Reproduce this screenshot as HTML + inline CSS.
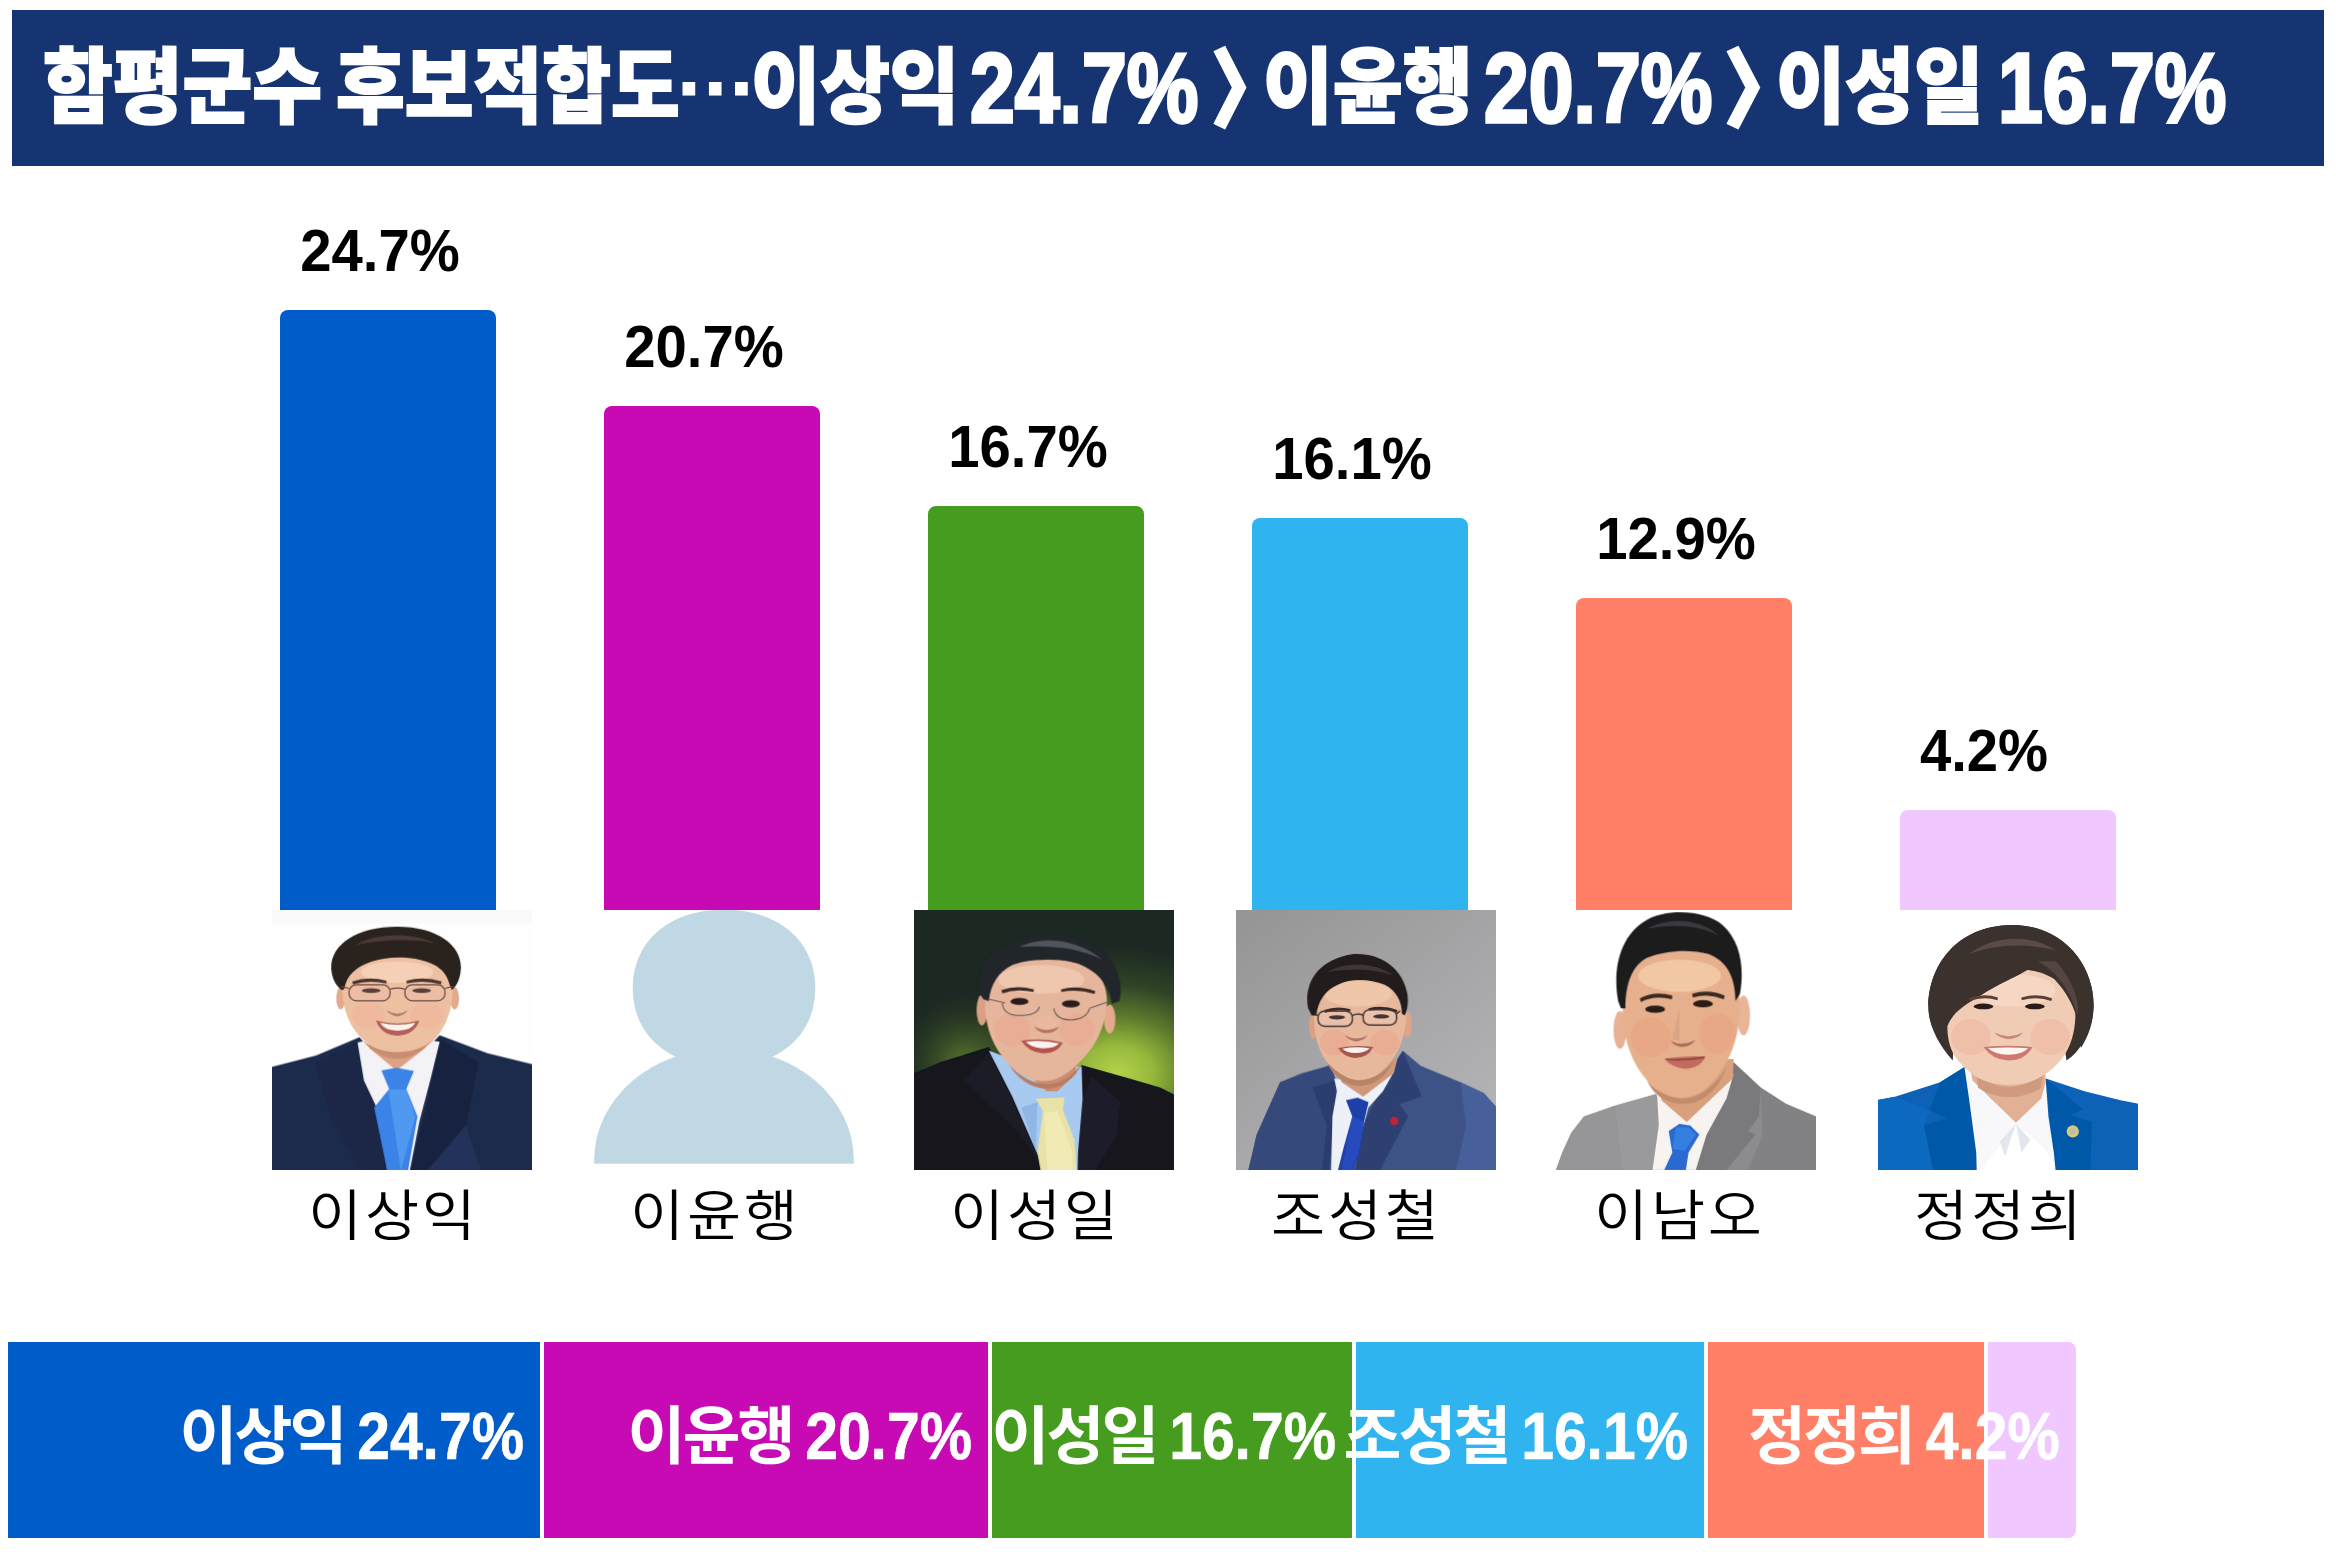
<!DOCTYPE html>
<html lang="ko">
<head>
<meta charset="utf-8">
<title>함평군수 후보적합도</title>
<style>
  html, body { margin: 0; padding: 0; }
  body {
    width: 2336px; height: 1552px; position: relative; overflow: hidden;
    background: #ffffff;
    font-family: "Liberation Sans", "Noto Sans CJK KR", sans-serif;
  }
  .abs { position: absolute; }

  /* ---------- banner ---------- */
  #banner {
    position: absolute; left: 12px; top: 10px; width: 2312px; height: 156px;
    background: #173472;
  }
  #banner h1 { margin: 0; font-size: 0; font-weight: 400; }
  #banner h1 span {
    position: absolute; top: 0; height: 156px; line-height: 156px;
    color: #fff; white-space: nowrap; transform-origin: 0 50%;
    font-family: "Liberation Sans", "Noto Sans CJK KR", sans-serif;
  }
  #banner .k { font-weight: 900; font-size: 82px; -webkit-text-stroke: 2px #fff; }
  #banner .e { font-weight: 900; font-size: 83px; -webkit-text-stroke: 1px #fff; }
  #banner .n { font-weight: 700; font-size: 99px; -webkit-text-stroke: 3.5px #fff; }
  #banner .a { font-weight: 900; font-size: 83px; -webkit-text-stroke: 4px #fff; }

  /* ---------- bars ---------- */
  .bar { position: absolute; width: 216px; border-radius: 8px 8px 0 0; }
  .val {
    position: absolute; width: 324px; text-align: center;
    font-family: "Liberation Sans", "Noto Sans CJK KR", sans-serif;
    font-weight: 700; font-size: 59.5px; line-height: 60px; color: #000;
    white-space: nowrap; transform: scaleX(.945);
  }
  .photo { position: absolute; width: 260px; height: 260px; top: 910px; overflow: hidden; }
  .photo svg { display: block; }
  .name {
    position: absolute; top: 1176px; width: 324px; text-align: center;
    font-family: "Liberation Sans", "Noto Sans CJK KR", sans-serif;
    font-weight: 350; font-size: 55px; line-height: 80px; color: #000;
    white-space: nowrap; letter-spacing: 2.6px; text-indent: 2.6px; transform: scaleX(1.07);
  }

  /* ---------- bottom strip ---------- */
  .seg { position: absolute; top: 1342px; height: 196px; }
  .seg span {
    position: absolute; top: 1.5px; height: 184px; line-height: 184px;
    font-family: "Liberation Sans", "Noto Sans CJK KR", sans-serif;
    font-weight: 700; color: #fff; white-space: nowrap;
  }
  .seg .h { right: 195.5px; font-size: 63px; letter-spacing: -3px; }
  .seg .d { right: 16.5px; font-size: 67px; -webkit-text-stroke: .7px #fff; transform-origin: 100% 50%; transform: scaleX(.878); }
</style>
</head>
<body>
<svg width="0" height="0" style="position:absolute">
  <defs>
    <filter id="soft" x="-5%" y="-5%" width="110%" height="110%"><feGaussianBlur stdDeviation="4"/></filter>
    <filter id="soft2" x="-5%" y="-5%" width="110%" height="110%"><feGaussianBlur stdDeviation="9"/></filter>
    <filter id="soft3" x="-20%" y="-20%" width="140%" height="140%"><feGaussianBlur stdDeviation="22"/></filter>
  </defs>
</svg>

<div id="banner"><h1>
  <span class="k" style="left:30.6px;  transform:scaleX(.925)">함평군수</span>
  <span class="k" style="left:324px; transform:scaleX(.911)">후보적합도</span>
  <span class="e" style="left:662.4px; transform:translateY(-21.5px) scaleX(.994)">…</span>
  <span class="k" style="left:738.5px; transform:scaleX(.920)">이상익</span>
  <span class="n" style="left:958px;   transform:scaleX(.813)">24.7%</span>
  <span class="a" style="left:1200px;  transform:translateY(3px) scaleX(.86)">〉</span>
  <span class="k" style="left:1250.6px;transform:scaleX(.926)">이윤행</span>
  <span class="n" style="left:1471.5px;transform:scaleX(.813)">20.7%</span>
  <span class="a" style="left:1713.4px;transform:translateY(3px) scaleX(.88)">〉</span>
  <span class="k" style="left:1763.7px;transform:scaleX(.916)">이성일</span>
  <span class="n" style="left:1985.6px;transform:scaleX(.813)">16.7%</span>
</h1></div>

<!-- bars -->
<div class="bar" style="left:280px;  top:310px; height:600px; background:#005cc8;"></div>
<div class="bar" style="left:604px;  top:406px; height:504px; background:#c80ab4;"></div>
<div class="bar" style="left:928px;  top:506px; height:404px; background:#469c1e;"></div>
<div class="bar" style="left:1252px; top:518px; height:392px; background:#30b4f0;"></div>
<div class="bar" style="left:1576px; top:598px; height:312px; background:#ff8066;"></div>
<div class="bar" style="left:1900px; top:810px; height:100px; background:#f0c8ff;"></div>

<!-- value labels -->
<div class="val" style="left:218px;  top:221px;">24.7%</div>
<div class="val" style="left:542px;  top:317px;">20.7%</div>
<div class="val" style="left:866px;  top:417px;">16.7%</div>
<div class="val" style="left:1190px; top:429px;">16.1%</div>
<div class="val" style="left:1514px; top:509px;">12.9%</div>
<div class="val" style="left:1821.5px; top:721px;">4.2%</div>

<!-- photos -->
<div class="photo" id="p1" style="left:272px;">
<svg viewBox="55.4 55.4 1441.2 1441.2" width="260" height="260">
  <rect x="-100" y="-100" width="1800" height="1800" fill="#fefefe"/>
  <rect x="-100" y="-100" width="1800" height="230" fill="#fbfafb"/>
  <g filter="url(#soft)">
    <!-- suit -->
    <path d="M-60 955 L300 862 L540 760 L745 1000 L985 750 L1250 850 L1600 935 L1600 1600 L-60 1600 Z" fill="#1c2a4b"/>
    <path d="M300 900 L520 790 L700 1250 L730 1600 L600 1600 L380 1200 Z" fill="#1a2746"/>
    <path d="M985 770 L1200 900 L1130 1250 L830 1600 L790 1600 L900 1200 Z" fill="#18243f"/>
    <path d="M1130 1250 L1250 1600 L830 1600 Z" fill="#22335a"/>
    <!-- shirt -->
    <path d="M530 790 L600 775 L900 775 L985 785 L935 990 L872 1230 L800 1600 L712 1600 L640 1160 L565 1000 Z" fill="#f3f2f6"/>
    <!-- neck -->
    <path d="M585 690 L925 690 L905 820 L745 945 L595 820 Z" fill="#dca283"/>
    <!-- tie -->
    <path d="M662 945 L745 930 L842 948 L800 1048 L862 1200 L792 1600 L715 1600 L622 1150 L705 1048 Z" fill="#3b83e6"/>
    <path d="M700 1050 L800 1050 L850 1200 L770 1500 Z" fill="#5aa4f4" opacity=".7"/>
    <!-- ears -->
    <ellipse cx="436" cy="545" rx="24" ry="62" fill="#e2a98a"/>
    <ellipse cx="1068" cy="545" rx="24" ry="62" fill="#e2a98a"/>
    <!-- face -->
    <path d="M445 470 C440 640 515 790 690 850 C755 872 825 862 885 830 C1005 760 1062 620 1058 470 C1055 345 950 305 750 305 C550 305 448 345 445 470 Z" fill="#edc0a2"/>
    <ellipse cx="590" cy="640" rx="90" ry="70" fill="#efb69c" opacity=".8"/>
    <ellipse cx="915" cy="640" rx="90" ry="70" fill="#efb69c" opacity=".8"/>
    <ellipse cx="750" cy="400" rx="200" ry="60" fill="#f6d2b8" opacity=".9"/>
    <!-- chin shadow -->
    <path d="M560 780 C650 860 850 870 945 775 C880 850 820 880 750 880 C680 880 610 845 560 780 Z" fill="#c98e70"/>
    <!-- hair -->
    <path d="M384 385 C376 250 520 148 750 148 C985 148 1112 262 1102 385 C1098 435 1082 475 1052 498 L1040 470 C1022 398 978 352 850 326 C700 300 560 340 502 402 C472 432 462 462 456 495 L440 498 C400 465 388 425 384 385 Z" fill="#2b211e"/>
    <path d="M520 250 C600 190 820 170 960 240 C860 215 660 215 520 250 Z" fill="#4a3a34"/>
    <!-- brows -->
    <path d="M500 452 Q590 420 690 448 L690 462 Q590 440 505 468 Z" fill="#4a342c"/>
    <path d="M800 448 Q900 420 995 452 L992 468 Q900 440 802 462 Z" fill="#4a342c"/>
    <!-- eyes -->
    <ellipse cx="605" cy="502" rx="52" ry="13" fill="#3a2822"/>
    <ellipse cx="885" cy="502" rx="52" ry="13" fill="#3a2822"/>
    <!-- nose -->
    <path d="M690 610 Q750 650 810 610 Q790 640 750 645 Q710 640 690 610 Z" fill="#b87a62"/>
    <!-- mouth -->
    <path d="M632 668 Q750 700 872 668 Q845 748 750 752 Q660 748 632 668 Z" fill="#b45f58"/>
    <path d="M655 680 Q750 702 850 680 Q830 722 750 724 Q675 722 655 680 Z" fill="#fbf4ee"/>
  </g>
  <!-- glasses -->
  <g fill="rgba(235,170,170,.18)" stroke="#6a4a48" stroke-width="7" filter="url(#soft)">
    <rect x="482" y="470" width="228" height="88" rx="40"/>
    <rect x="792" y="470" width="222" height="88" rx="40"/>
    <path d="M710 495 Q750 480 792 495" fill="none"/>
    <path d="M482 490 L440 480 M1014 490 L1060 478" fill="none"/>
  </g>
</svg>
</div>
<div class="photo" id="p2" style="left:594px;">
<svg viewBox="0 0 260 260" width="260" height="260">
  <g fill="#c0d8e4">
    <path d="M38.7 78.2 C38.7 31.0 75.2 -0.4 130 -0.4 C184.8 -0.4 221.3 31.0 221.3 78.2 C221.3 125.4 184.8 156.8 130 156.8 C75.2 156.8 38.7 125.4 38.7 78.2 Z"/>
    <path d="M0.2 253.8 L0.2 249.8 A129.8 111.3 0 0 1 259.8 249.8 L259.8 253.8 Z"/>
  </g>
</svg>
</div>
<div class="photo" id="p3" style="left:914px;">
<svg viewBox="55.4 55.4 1441.2 1441.2" width="260" height="260">
  <defs>
    <radialGradient id="g3" gradientUnits="userSpaceOnUse" cx="1180" cy="960" r="900" gradientTransform="translate(1180 960) scale(1 .78) translate(-1180 -960)">
      <stop offset="0" stop-color="#b4d24a"/>
      <stop offset=".22" stop-color="#96b83c"/>
      <stop offset=".45" stop-color="#5c7a2c"/>
      <stop offset=".7" stop-color="#2f4326"/>
      <stop offset="1" stop-color="#1c2822"/>
    </radialGradient>
    <radialGradient id="g3b" gradientUnits="userSpaceOnUse" cx="330" cy="900" r="420">
      <stop offset="0" stop-color="#6a8830" stop-opacity=".8"/>
      <stop offset=".5" stop-color="#425a26" stop-opacity=".45"/>
      <stop offset="1" stop-color="#1c2822" stop-opacity="0"/>
    </radialGradient>
  </defs>
  <rect x="-100" y="-100" width="1800" height="1800" fill="#1c2822"/>
  <rect x="-100" y="-100" width="1800" height="1800" fill="url(#g3)"/>
  <rect x="-100" y="-100" width="1800" height="1800" fill="url(#g3b)"/>
  <g filter="url(#soft)">
    <!-- suit -->
    <path d="M-60 1010 L200 900 L470 815 L760 1300 L985 915 L1250 990 L1420 1040 L1600 1130 L1600 1600 L-60 1600 Z" fill="#12131c"/>
    <path d="M1040 980 L1200 1120 L1180 1300 L1000 1600 L960 1600 L990 1100 Z" fill="#1e1f2b"/>
    <path d="M330 1000 L470 840 L600 1100 L780 1500 L640 1300 Z" fill="#1a1b26"/>
    <!-- shirt -->
    <path d="M470 835 L640 900 L985 925 L990 1100 L965 1400 L960 1600 L780 1600 L745 1420 L600 1090 Z" fill="#a9caf0"/>
    <path d="M650 1150 L740 1120 L730 1380 Z" fill="#8fb6e6"/>
    <!-- neck -->
    <path d="M640 880 L950 880 L955 960 L850 1060 L790 1060 L660 940 Z" fill="#c98e72"/>
    <!-- tie -->
    <path d="M730 1100 L890 1095 L880 1160 L945 1330 L965 1600 L775 1600 L740 1400 L770 1170 Z" fill="#e9e2a6"/>
    <path d="M775 1180 L850 1170 L930 1380 L940 1560 L800 1560 Z" fill="#f3eebc" opacity=".7"/>
    <!-- ears -->
    <ellipse cx="432" cy="610" rx="30" ry="85" fill="#d9a084"/>
    <ellipse cx="1140" cy="660" rx="32" ry="80" fill="#e2a98c"/>
    <!-- face -->
    <path d="M450 540 C440 700 500 860 640 960 C720 1015 820 1020 900 960 C1040 860 1120 720 1125 560 C1128 400 1000 330 800 330 C590 330 458 400 450 540 Z" fill="#e6b69c"/>
    <ellipse cx="760" cy="440" rx="240" ry="80" fill="#f0c8b0" opacity=".9"/>
    <ellipse cx="600" cy="720" rx="100" ry="90" fill="#e8ac94" opacity=".8"/>
    <ellipse cx="960" cy="720" rx="100" ry="90" fill="#e8ac94" opacity=".8"/>
    <path d="M580 910 C640 980 720 1020 790 1020 C870 1020 930 980 990 900 C940 1000 870 1045 790 1045 C700 1045 630 990 580 910 Z" fill="#b87c62"/>
    <!-- hair -->
    <path d="M420 520 C400 400 450 280 600 240 C700 180 900 170 1040 250 C1160 310 1220 420 1195 560 L1150 575 C1140 470 1080 400 960 350 C850 320 700 310 600 360 C520 400 480 470 470 560 L440 550 Z" fill="#23262b"/>
    <path d="M640 260 C760 200 950 210 1100 330 C960 260 800 250 640 260 Z" fill="#50545c"/>
    <!-- brows -->
    <path d="M540 500 Q620 470 720 495 L718 510 Q620 490 545 518 Z" fill="#3a2a26"/>
    <path d="M870 495 Q960 470 1060 505 L1056 520 Q960 492 872 510 Z" fill="#3a2a26"/>
    <!-- eyes -->
    <ellipse cx="640" cy="562" rx="50" ry="20" fill="#2a1c1a"/>
    <ellipse cx="925" cy="575" rx="50" ry="20" fill="#2a1c1a"/>
    <!-- nose -->
    <path d="M720 700 Q790 740 860 700 Q840 735 790 738 Q745 735 720 700 Z" fill="#b47660"/>
    <ellipse cx="790" cy="680" rx="60" ry="40" fill="#eeb8a0" opacity=".8"/>
    <!-- mouth -->
    <path d="M650 780 Q770 760 880 790 Q850 850 770 850 Q690 845 650 780 Z" fill="#b4524e"/>
    <path d="M675 785 Q770 772 860 795 Q835 822 770 822 Q705 818 675 785 Z" fill="#faf2ee"/>
  </g>
  <g fill="none" stroke="#6a5a58" stroke-width="6" filter="url(#soft)">
    <path d="M470 550 L560 570 M1030 600 L1130 565"/>
    <path d="M545 570 Q550 640 640 640 Q740 640 750 590"/>
    <path d="M830 600 Q840 665 930 665 Q1010 660 1030 600"/>
  </g>
</svg>
</div>
<div class="photo" id="p4" style="left:1236px;">
<svg viewBox="55.4 55.4 1441.2 1441.2" width="260" height="260">
  <defs>
    <linearGradient id="g4" gradientUnits="userSpaceOnUse" x1="200" y1="55" x2="1300" y2="1500">
      <stop offset="0" stop-color="#969696"/>
      <stop offset=".5" stop-color="#a6a6a8"/>
      <stop offset="1" stop-color="#b6b6ba"/>
    </linearGradient>
  </defs>
  <rect x="-100" y="-100" width="1800" height="1800" fill="url(#g4)"/>
  <g filter="url(#soft)">
    <!-- suit -->
    <path d="M100 1600 L170 1300 L300 1010 L420 960 L580 915 L700 1250 L980 835 L1080 920 L1300 1010 L1430 1070 L1500 1150 L1600 1300 L1600 1600 Z" fill="#3d5386"/>
    <path d="M300 1010 L580 915 L610 1050 L590 1200 L520 1600 L100 1600 L170 1300 Z" fill="#35487a"/>
    <path d="M980 835 L1085 1090 L960 1130 L1010 1200 L800 1600 L700 1600 L760 1250 L880 1000 Z" fill="#2f4172"/>
    <path d="M480 1040 L610 1000 L600 1230 L560 1600 L520 1600 L560 1250 Z" fill="#2c3d6c"/>
    <path d="M1300 1010 L1430 1070 L1500 1150 L1600 1300 L1600 1600 L1250 1600 L1330 1250 Z" fill="#4a62a0" opacity=".8"/>
    <!-- shirt -->
    <path d="M600 990 L700 1000 L935 945 L870 1060 L790 1150 L740 1330 L640 1600 L580 1600 L590 1200 L615 1060 Z" fill="#eef0f8"/>
    <!-- neck -->
    <path d="M610 900 L950 880 L930 960 L760 1090 L640 1010 Z" fill="#d09878"/>
    <!-- tie -->
    <path d="M665 1110 L730 1095 L790 1120 L765 1230 L740 1400 L660 1600 L595 1600 L650 1380 L700 1200 Z" fill="#1f3fa8"/>
    <path d="M700 1200 L765 1230 L735 1400 L660 1580 L640 1500 Z" fill="#2c52c8" opacity=".7"/>
    <!-- pin -->
    <circle cx="932" cy="1225" r="24" fill="#c02038"/>
    <!-- ears -->
    <ellipse cx="484" cy="700" rx="24" ry="70" fill="#d9a084"/>
    <ellipse cx="1005" cy="690" rx="26" ry="75" fill="#dca488"/>
    <!-- face -->
    <path d="M490 620 C480 760 520 880 620 960 C690 1010 780 1010 850 960 C950 880 1000 760 1000 620 C1000 480 900 420 745 420 C590 420 495 480 490 620 Z" fill="#e8b89c"/>
    <ellipse cx="730" cy="520" rx="190" ry="70" fill="#f0c8ac" opacity=".9"/>
    <ellipse cx="600" cy="790" rx="80" ry="70" fill="#e8a890" opacity=".7"/>
    <ellipse cx="880" cy="790" rx="80" ry="70" fill="#e8a890" opacity=".7"/>
    <path d="M560 900 C640 980 700 1000 740 1000 C800 1000 870 970 930 890 C880 1000 800 1030 740 1030 C680 1030 600 990 560 900 Z" fill="#b88468"/>
    <!-- hair -->
    <path d="M455 600 C430 470 500 330 700 300 C860 290 980 380 1005 520 C1012 570 1005 610 990 640 L975 630 C975 560 940 500 880 470 C800 440 700 430 620 470 C550 500 510 560 500 640 L475 640 Z" fill="#221c1c"/>
    <path d="M560 400 C660 340 820 340 930 420 C820 380 680 380 560 400 Z" fill="#403636"/>
    <!-- brows -->
    <path d="M545 610 Q610 585 690 605 L688 618 Q610 600 548 626 Z" fill="#3a2a26"/>
    <path d="M790 600 Q870 580 950 610 L946 624 Q870 598 792 614 Z" fill="#3a2a26"/>
    <!-- eyes -->
    <ellipse cx="615" cy="650" rx="45" ry="12" fill="#2a1c1a"/>
    <ellipse cx="860" cy="645" rx="45" ry="12" fill="#2a1c1a"/>
    <!-- nose -->
    <path d="M660 750 Q720 785 785 750 Q765 780 720 784 Q680 780 660 750 Z" fill="#b47660"/>
    <!-- mouth -->
    <path d="M622 820 Q720 800 815 815 Q790 875 715 875 Q650 870 622 820 Z" fill="#a85450"/>
    <path d="M645 824 Q720 810 795 822 Q775 848 715 848 Q665 846 645 824 Z" fill="#faf2ee"/>
  </g>
  <g fill="rgba(255,255,255,.12)" stroke="#3c3434" stroke-width="8" filter="url(#soft)">
    <rect x="510" y="615" width="190" height="85" rx="36"/>
    <rect x="760" y="608" width="185" height="85" rx="36"/>
    <path d="M700 640 Q730 625 760 638" fill="none"/>
    <path d="M510 640 L488 632 M945 630 L965 615" fill="none"/>
  </g>
</svg>
</div>
<div class="photo" id="p5" style="left:1556px;">
<svg viewBox="55.4 55.4 1441.2 1441.2" width="260" height="260">
  <rect x="-100" y="-100" width="1800" height="1800" fill="#ffffff"/>
  <g filter="url(#soft)">
    <!-- suit -->
    <path d="M55 1497 L90 1400 L140 1290 L210 1200 L380 1140 L610 1075 L720 1350 L1040 900 L1190 1040 L1330 1130 L1497 1200 L1600 1240 L1600 1600 L55 1600 Z" fill="#8c8c8e"/>
    <path d="M1040 900 L1190 1040 L1180 1200 L1120 1280 L1160 1300 L1000 1497 L820 1497 L880 1320 L1000 1100 Z" fill="#7a7a7c"/>
    <path d="M380 1140 L610 1075 L625 1250 L600 1497 L420 1497 Z" fill="#9a9a9c"/>
    <path d="M1190 1040 L1330 1130 L1497 1200 L1600 1240 L1600 1600 L1080 1600 L1200 1300 Z" fill="#828284"/>
    <path d="M55 1497 L90 1400 L140 1290 L210 1200 L380 1140 L420 1497 Z" fill="#969698"/>
    <!-- shirt -->
    <path d="M615 1075 L700 1100 L1040 965 L1000 1100 L890 1300 L830 1497 L590 1497 L625 1250 Z" fill="#f7f3f0"/>
    <!-- neck -->
    <path d="M610 900 L1040 880 L1035 990 L780 1230 L640 1110 Z" fill="#d8a07c"/>
    <!-- tie -->
    <path d="M680 1280 L740 1240 L800 1250 L850 1300 L790 1400 L775 1497 L655 1497 L700 1400 Z" fill="#2a6ad0"/>
    <path d="M720 1260 L790 1260 L830 1300 L770 1390 L700 1380 Z" fill="#3a84e4" opacity=".8"/>
    <!-- ears -->
    <ellipse cx="410" cy="720" rx="36" ry="105" fill="#e8b094"/>
    <ellipse cx="1095" cy="640" rx="36" ry="110" fill="#eab498"/>
    <!-- face -->
    <path d="M425 560 C420 760 470 920 600 1040 C680 1110 800 1115 880 1050 C1000 950 1080 780 1075 560 C1072 360 950 280 750 280 C560 280 430 360 425 560 Z" fill="#e6b08c"/>
    <ellipse cx="740" cy="420" rx="230" ry="90" fill="#f2cba8" opacity=".85"/>
    <ellipse cx="580" cy="760" rx="110" ry="110" fill="#e8a482" opacity=".7"/>
    <ellipse cx="950" cy="740" rx="100" ry="110" fill="#e8a482" opacity=".7"/>
    <path d="M560 1000 C620 1070 700 1100 760 1100 C840 1100 930 1040 1000 930 C940 1080 850 1130 760 1130 C680 1130 600 1090 560 1000 Z" fill="#c08c6c"/>
    <!-- hair -->
    <path d="M400 560 C370 400 400 200 560 110 C660 50 880 50 980 140 C1080 230 1100 380 1075 520 L1050 560 C1050 440 1010 340 900 300 C800 270 660 280 560 320 C480 360 440 460 440 600 L415 600 Z" fill="#1c1a1e"/>
    <path d="M560 160 C680 90 860 100 960 200 C860 140 700 130 560 160 Z" fill="#3a3840"/>
    <!-- brows -->
    <path d="M520 545 Q600 500 700 530 L698 550 Q600 525 526 566 Z" fill="#3a2a24"/>
    <path d="M810 520 Q900 490 990 530 L986 550 Q900 515 814 540 Z" fill="#3a2a24"/>
    <!-- eyes -->
    <ellipse cx="605" cy="605" rx="55" ry="20" fill="#2a1a16"/>
    <ellipse cx="870" cy="575" rx="55" ry="20" fill="#2a1a16"/>
    <!-- nose -->
    <path d="M690 780 Q750 815 830 775 Q805 812 755 815 Q710 810 690 780 Z" fill="#a8705a"/>
    <path d="M740 600 L700 770 L740 780 Z" fill="#d8a080" opacity=".7"/>
    <!-- mouth -->
    <path d="M655 880 Q770 860 885 868 Q850 935 770 935 Q700 930 655 880 Z" fill="#c06a60"/>
    <path d="M665 882 Q770 892 878 872" stroke="#8c4038" stroke-width="8" fill="none"/>
  </g>
</svg>
</div>
<div class="photo" id="p6" style="left:1878px;">
<svg viewBox="55.4 55.4 1441.2 1441.2" width="260" height="260">
  <rect x="-100" y="-100" width="1800" height="1800" fill="#ffffff"/>
  <g filter="url(#soft)">
    <!-- jacket -->
    <path d="M-60 1130 L150 1090 L400 1010 L535 925 L780 1400 L985 990 L1200 1060 L1400 1110 L1600 1150 L1600 1600 L-60 1600 Z" fill="#0862b8"/>
    <path d="M400 1010 L535 925 L560 1100 L600 1400 L610 1600 L380 1600 L310 1250 L440 1210 L340 1165 Z" fill="#0558a8"/>
    <path d="M985 990 L1190 1160 L1120 1195 L1240 1230 L1230 1600 L1050 1600 L1030 1400 Z" fill="#0558a8"/>
    <path d="M-60 1130 L150 1090 L340 1165 L310 1250 L380 1600 L-60 1600 Z" fill="#0a68c0"/>
    <!-- blouse -->
    <path d="M535 930 L640 1000 L985 995 L1000 1200 L1030 1400 L1050 1600 L605 1600 L600 1400 L560 1100 Z" fill="#f8f8fa"/>
    <path d="M820 1240 L700 1400 L620 1500 L610 1600 L1050 1600 L1030 1450 L950 1350 Z" fill="#ffffff"/>
    <path d="M820 1240 L900 1330 L850 1400 Z M820 1240 L730 1340 L760 1420 Z" fill="#e4e6ee"/>
    <!-- neck -->
    <path d="M560 900 L980 900 L985 1010 L960 1100 L820 1235 L700 1120 L580 1000 Z" fill="#e2b094"/>
    <path d="M600 960 C700 1060 860 1060 970 960 L960 1040 C860 1110 720 1110 610 1040 Z" fill="#cf9a7e"/>
    <!-- pin -->
    <circle cx="1135" cy="1283" r="34" fill="#d8c878"/>
    <circle cx="1135" cy="1283" r="16" fill="#b8bcc0"/>
    <!-- hair back -->
    <path d="M335 600 C330 380 480 140 800 138 C1100 140 1260 380 1250 600 C1245 720 1180 840 1100 890 L1060 600 L480 600 L470 890 C390 800 338 700 335 600 Z" fill="#3a302e"/>
    <!-- face -->
    <path d="M420 620 C420 800 480 900 600 980 C700 1040 860 1040 960 980 C1090 900 1150 790 1150 620 C1150 480 1000 380 790 380 C580 380 420 480 420 620 Z" fill="#f0ccb4"/>
    <ellipse cx="800" cy="500" rx="240" ry="90" fill="#f6d8c4" opacity=".9"/>
    <ellipse cx="570" cy="760" rx="110" ry="100" fill="#f0b8a4" opacity=".65"/>
    <ellipse cx="1010" cy="760" rx="110" ry="100" fill="#f0b8a4" opacity=".65"/>
    <!-- hair front / bangs -->
    <path d="M335 600 C330 380 480 140 800 138 C1100 140 1260 380 1250 600 C1248 680 1220 760 1180 820 C1180 700 1150 580 1060 470 C1000 400 960 370 940 340 C900 400 760 440 640 520 C540 580 470 620 440 700 C440 760 450 800 470 850 C390 790 338 700 335 600 Z" fill="#3a302e"/>
    <path d="M560 300 C680 200 900 180 1040 280 C900 240 720 240 560 300 Z" fill="#5a4c48"/>
    <path d="M940 340 C1020 380 1120 480 1160 640 C1180 560 1120 420 1040 340 Z" fill="#5c4a44" opacity=".8"/>
    <!-- brows -->
    <path d="M560 545 Q640 515 720 540 L718 555 Q640 533 565 560 Z" fill="#5a4038"/>
    <path d="M850 540 Q940 515 1020 545 L1016 560 Q940 533 852 555 Z" fill="#5a4038"/>
    <!-- eyes -->
    <ellipse cx="640" cy="590" rx="55" ry="16" fill="#2a1c1a"/>
    <ellipse cx="925" cy="590" rx="55" ry="16" fill="#2a1c1a"/>
    <!-- nose -->
    <path d="M700 735 Q780 775 860 735 Q835 770 780 772 Q730 770 700 735 Z" fill="#c48c78"/>
    <!-- mouth -->
    <path d="M640 815 Q775 800 912 815 Q870 890 775 890 Q690 885 640 815 Z" fill="#d07870"/>
    <path d="M665 822 Q775 812 888 822 Q855 858 775 858 Q705 856 665 822 Z" fill="#fcf6f0"/>
  </g>
</svg>
</div>

<!-- names -->
<div class="name" style="left:230px;">이상익</div>
<div class="name" style="left:552px;">이윤행</div>
<div class="name" style="left:872px;">이성일</div>
<div class="name" style="left:1193px;">조성철</div>
<div class="name" style="left:1516px;">이남오</div>
<div class="name" style="left:1836px;">정정희</div>

<!-- bottom strip -->
<div class="seg" style="left:8px;    width:532px; background:#005cc8;"><span class="h">이상익</span><span class="d">24.7%</span></div>
<div class="seg" style="left:544px;  width:444px; background:#c80ab4;"><span class="h">이윤행</span><span class="d">20.7%</span></div>
<div class="seg" style="left:992px;  width:360px; background:#469c1e;"><span class="h">이성일</span><span class="d">16.7%</span></div>
<div class="seg" style="left:1356px; width:348px; background:#30b4f0;"><span class="h">조성철</span><span class="d">16.1%</span></div>
<div class="seg" style="left:1708px; width:276px; background:#ff8066;"></div>
<div class="seg" style="left:1988px; width:88px;  background:#f0c8ff; border-radius:0 8px 8px 0;"><span class="h" style="right:163px">정정희</span><span class="d">4.2%</span></div>

</body>
</html>
